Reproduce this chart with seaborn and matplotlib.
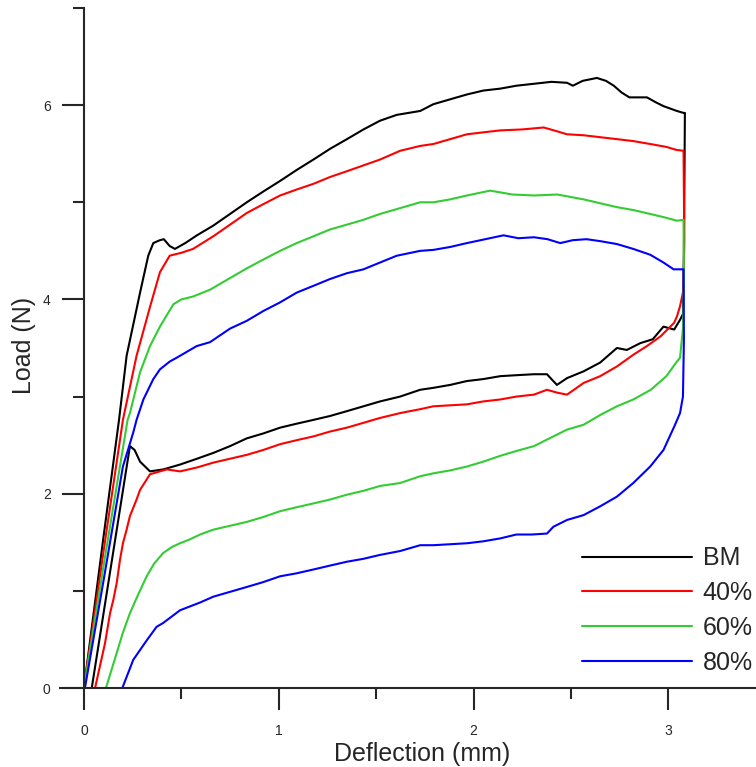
import numpy as np
import pandas as pd
import matplotlib
matplotlib.use("Agg")
import matplotlib.pyplot as plt
import seaborn as sns
from matplotlib.ticker import MultipleLocator

sns.set_style("ticks")
plt.rcParams['font.family'] = ['Liberation Sans', 'DejaVu Sans']

series_names = ["BM", "40%", "60%", "80%"]
colors = ["#000000", "#FF0000", "#33CC33", "#0000FF"]

bm_x = [0.0, 0.10, 0.18, 0.219, 0.288, 0.33, 0.356, 0.39, 0.41, 0.44, 0.467, 0.52, 0.58, 0.664, 0.75, 0.836,
        0.92, 1.007, 1.09, 1.178, 1.263, 1.35, 1.435, 1.52, 1.606, 1.726, 1.794, 1.88, 1.966, 2.05, 2.137,
        2.22, 2.31, 2.40, 2.48, 2.51, 2.56, 2.633, 2.68, 2.72, 2.76, 2.80, 2.89, 2.935, 2.975, 3.044, 3.078,
        3.085, 3.08, 3.075,
        3.06, 3.03, 2.975, 2.92, 2.856, 2.787, 2.736, 2.65, 2.565, 2.48, 2.428, 2.40, 2.377, 2.31, 2.22,
        2.137, 2.05, 1.966, 1.88, 1.794, 1.726, 1.623, 1.52, 1.435, 1.35, 1.263, 1.178, 1.09, 1.007, 0.92,
        0.836, 0.75, 0.664, 0.58, 0.493, 0.407, 0.339, 0.288, 0.26, 0.236, 0.04]
bm_y = [0.0, 1.55, 2.76, 3.42, 4.07, 4.45, 4.58, 4.61, 4.62, 4.55, 4.52, 4.58, 4.66, 4.76, 4.88, 5.0,
        5.11, 5.22, 5.33, 5.44, 5.55, 5.65, 5.75, 5.84, 5.90, 5.94, 6.01, 6.06, 6.11, 6.15, 6.17,
        6.20, 6.22, 6.24, 6.23, 6.20, 6.25, 6.28, 6.25, 6.20, 6.13, 6.08, 6.08, 6.03, 5.99, 5.94, 5.92,
        5.92, 4.5, 3.85,
        3.79, 3.69, 3.72, 3.59, 3.55, 3.48, 3.50, 3.35, 3.26, 3.19, 3.12, 3.18, 3.23, 3.23, 3.22,
        3.21, 3.18, 3.16, 3.12, 3.09, 3.07, 3.00, 2.95, 2.90, 2.85, 2.80, 2.76, 2.72, 2.68, 2.62,
        2.57, 2.49, 2.42, 2.36, 2.30, 2.25, 2.23, 2.33, 2.45, 2.49, 0.0]

r40_x = [0.0, 0.10, 0.20, 0.27, 0.34, 0.39, 0.44, 0.459, 0.50, 0.56, 0.664, 0.75, 0.836, 0.92, 1.007,
         1.09, 1.178, 1.263, 1.35, 1.435, 1.52, 1.623, 1.726, 1.794, 1.88, 1.966, 2.05, 2.137, 2.25, 2.36,
         2.43, 2.48, 2.565, 2.65, 2.736, 2.82, 2.907, 2.99, 3.04, 3.078,
         3.082, 3.078,
         3.06, 3.045, 3.03, 2.96, 2.89, 2.82, 2.736, 2.65, 2.565, 2.48, 2.43, 2.377, 2.31, 2.22, 2.137,
         2.05, 1.966, 1.88, 1.794, 1.726, 1.623, 1.52, 1.435, 1.35, 1.263, 1.178, 1.09, 1.007, 0.92,
         0.836, 0.75, 0.664, 0.58, 0.493, 0.425, 0.339, 0.288, 0.27, 0.236, 0.219, 0.20, 0.185, 0.168,
         0.151, 0.134, 0.108, 0.057]
r40_y = [0.0, 1.4, 2.76, 3.42, 3.93, 4.28, 4.45, 4.46, 4.48, 4.52, 4.65, 4.77, 4.89, 4.98, 5.07,
         5.13, 5.19, 5.26, 5.32, 5.38, 5.44, 5.53, 5.58, 5.60, 5.65, 5.70, 5.72, 5.74, 5.75, 5.77,
         5.73, 5.70, 5.69, 5.67, 5.65, 5.63, 5.60, 5.57, 5.54, 5.53,
         4.6, 4.1,
         3.93, 3.83, 3.76, 3.62, 3.52, 3.43, 3.31, 3.21, 3.14, 3.02, 3.04, 3.07, 3.02, 3.00, 2.97,
         2.95, 2.92, 2.91, 2.90, 2.87, 2.83, 2.78, 2.73, 2.68, 2.64, 2.59, 2.55, 2.51, 2.45,
         2.40, 2.36, 2.32, 2.27, 2.23, 2.25, 2.20, 2.04, 1.94, 1.77, 1.63, 1.49, 1.32, 1.08,
         0.91, 0.77, 0.46, 0.0]

g60_x = [0.0, 0.10, 0.224, 0.236, 0.288, 0.339, 0.39, 0.459, 0.50, 0.56, 0.647, 0.75, 0.836, 0.92,
         1.007, 1.092, 1.178, 1.263, 1.35, 1.435, 1.52, 1.606, 1.726, 1.794, 1.88, 1.966, 2.085, 2.20,
         2.31, 2.43, 2.565, 2.65, 2.736, 2.82, 2.907, 2.99, 3.044, 3.078,
         3.08, 3.075, 3.06, 3.04,
         2.99, 2.91, 2.82, 2.736, 2.65, 2.565, 2.48, 2.39, 2.31, 2.22, 2.137, 2.05, 1.966, 1.88, 1.794,
         1.726, 1.623, 1.52, 1.435, 1.35, 1.263, 1.178, 1.09, 1.007, 0.92, 0.836, 0.75, 0.664, 0.596,
         0.544, 0.493, 0.45, 0.407, 0.36, 0.322, 0.28, 0.236, 0.20, 0.168, 0.113]
g60_y = [0.0, 1.25, 2.76, 2.83, 3.25, 3.52, 3.72, 3.95, 4.0, 4.03, 4.10, 4.22, 4.32, 4.41,
         4.50, 4.58, 4.65, 4.72, 4.77, 4.82, 4.88, 4.93, 5.00, 5.00, 5.03, 5.07, 5.12, 5.08,
         5.07, 5.08, 5.03, 4.99, 4.95, 4.92, 4.88, 4.84, 4.81, 4.82,
         4.2, 3.7, 3.4, 3.35,
         3.21, 3.07, 2.97, 2.90, 2.81, 2.71, 2.66, 2.57, 2.49, 2.44, 2.39, 2.33, 2.28, 2.24, 2.21,
         2.18, 2.11, 2.08, 2.03, 1.99, 1.94, 1.90, 1.86, 1.82, 1.76, 1.71, 1.67, 1.63, 1.58,
         1.53, 1.49, 1.45, 1.39, 1.28, 1.15, 0.97, 0.77, 0.57, 0.36, 0.0]

b80_x = [0.005, 0.10, 0.20, 0.253, 0.27, 0.305, 0.356, 0.39, 0.44, 0.476, 0.579, 0.647, 0.75, 0.836,
         0.92, 1.007, 1.092, 1.178, 1.263, 1.35, 1.435, 1.52, 1.606, 1.726, 1.794, 1.88, 1.966, 2.06,
         2.154, 2.23, 2.31, 2.38, 2.445, 2.51, 2.58, 2.65, 2.736, 2.82, 2.907, 2.975, 3.027, 3.078,
         3.08, 3.075, 3.06,
         3.03, 2.975, 2.907, 2.82, 2.736, 2.65, 2.565, 2.48, 2.41, 2.377, 2.30, 2.22, 2.137, 2.05, 1.966,
         1.88, 1.794, 1.726, 1.623, 1.52, 1.435, 1.35, 1.263, 1.178, 1.09, 1.007, 0.92, 0.836, 0.75,
         0.664, 0.596, 0.493, 0.407, 0.373, 0.322, 0.253, 0.197]
b80_y = [0.0, 1.1, 2.28, 2.63, 2.76, 2.97, 3.18, 3.28, 3.36, 3.40, 3.52, 3.56, 3.70, 3.78,
         3.88, 3.97, 4.07, 4.14, 4.21, 4.27, 4.31, 4.38, 4.45, 4.50, 4.51, 4.54, 4.58, 4.62,
         4.66, 4.63, 4.64, 4.62, 4.58, 4.61, 4.62, 4.60, 4.57, 4.52, 4.46, 4.38, 4.31, 4.31,
         3.6, 3.0, 2.83,
         2.69, 2.45, 2.28, 2.11, 1.97, 1.87, 1.78, 1.73, 1.66, 1.59, 1.58, 1.58, 1.54, 1.51, 1.49,
         1.48, 1.47, 1.47, 1.41, 1.37, 1.33, 1.30, 1.26, 1.22, 1.18, 1.15, 1.09, 1.04, 0.99,
         0.94, 0.88, 0.80, 0.67, 0.63, 0.49, 0.29, 0.0]

frames = []
for name, xs, ys in zip(series_names, [bm_x, r40_x, g60_x, b80_x], [bm_y, r40_y, g60_y, b80_y]):
    frames.append(pd.DataFrame({"Deflection": xs, "Load": ys, "Sample": name}))
df = pd.concat(frames, ignore_index=True)

fig = plt.figure(figsize=(7.56, 7.67), dpi=100)
ax = fig.add_axes([60 / 756, 79 / 767, 696 / 756, 680 / 767])

sns.lineplot(data=df, x="Deflection", y="Load", hue="Sample", hue_order=series_names,
             palette=colors, sort=False, estimator=None, linewidth=1.5, ax=ax)

ax.set_xlim(-0.123, 3.45)
ax.set_ylim(0, 7)
ax.spines['top'].set_visible(False)
ax.spines['right'].set_visible(False)
ax.spines['left'].set_position(('data', 0))
for s in ['left', 'bottom']:
    ax.spines[s].set_linewidth(1.5)

ax.xaxis.set_major_locator(MultipleLocator(1))
ax.xaxis.set_minor_locator(MultipleLocator(0.5))
ax.yaxis.set_major_locator(MultipleLocator(2))
ax.yaxis.set_minor_locator(MultipleLocator(1))
ax.tick_params(which='major', direction='out', length=16, width=1.5, labelsize=10)
ax.tick_params(which='minor', direction='out', length=8, width=1.5)
ax.tick_params(axis='x', which='major', pad=10)
ax.tick_params(axis='y', which='major', pad=8)

ax.set_xlabel("Deflection (mm)", fontsize=18)
ax.set_ylabel("Load (N)", fontsize=18)
ax.xaxis.set_label_coords((422 - 60) / 696, -0.079)
ax.yaxis.set_label_coords(-0.034, 0.504)

handles, labels = ax.get_legend_handles_labels()
ax.legend(handles, labels, loc='lower right', bbox_to_anchor=(1.01, 0.005), frameon=False,
          fontsize=18, handlelength=4.4, handletextpad=0.45, labelspacing=0.43,
          borderaxespad=0.0)

fig.savefig("out.png", dpi=100)
